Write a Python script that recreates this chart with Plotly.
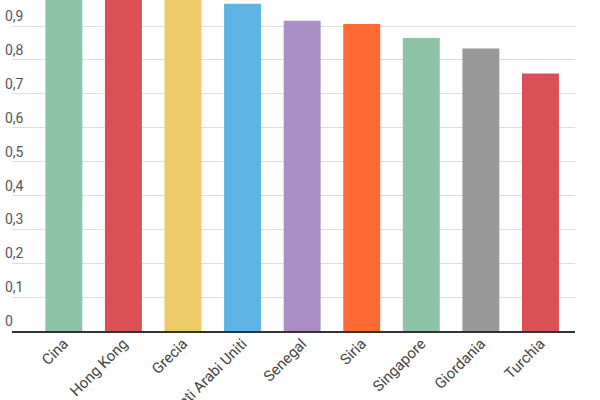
import plotly.graph_objects as go

categories = ["Cina", "Hong Kong", "Grecia", "Emirati Arabi Uniti", "Senegal",
              "Siria", "Singapore", "Giordania", "Turchia"]
values = [1.0, 1.0, 1.0, 0.966, 0.916, 0.906, 0.865, 0.834, 0.760]
colors = ["#8DC3A7", "#DB5054", "#ECC969", "#5DB3E3", "#A98FC6",
          "#FF6A33", "#8DC3A7", "#999999", "#DB5054"]
tick_vals = [0, 0.1, 0.2, 0.3, 0.4, 0.5, 0.6, 0.7, 0.8, 0.9]
tick_text = ["0", "0,1", "0,2", "0,3", "0,4", "0,5", "0,6", "0,7", "0,8", "0,9"]

fig = go.Figure(go.Bar(x=categories, y=values, marker_color=colors,
                       marker_line_width=0, width=0.62))

fig.update_layout(
    width=600, height=400,
    margin=dict(l=12, r=25, t=0, b=69, pad=0),
    paper_bgcolor="white", plot_bgcolor="white",
    font=dict(family="Roboto", size=15, color="#444"),
    showlegend=False,
)
fig.update_xaxes(
    range=[-0.87, 8.58], tickangle=-45, showgrid=False, automargin=False,
    showline=True, linecolor="#333", linewidth=2,
    ticks="", tickfont=dict(size=15, color="#444"), ticklabelstandoff=-4,
)
fig.update_yaxes(
    range=[0, 0.977], tickvals=tick_vals, ticktext=tick_text, automargin=False,
    ticklabelposition="inside top", showgrid=True, gridcolor="#DDDDDD",
    gridwidth=1, zeroline=False, ticks="", ticklabelstandoff=-10,
    tickfont=dict(size=14, color="#555"),
)

fig.write_html("out.html", config={"displayModeBar": False},
               post_script="document.body.style.margin='0';document.body.style.overflow='hidden';")
